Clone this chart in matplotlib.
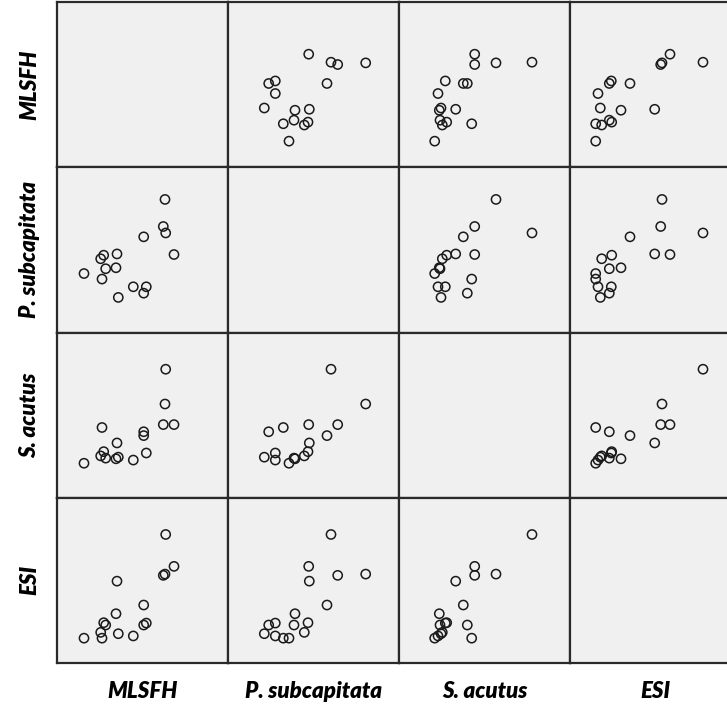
import matplotlib
matplotlib.use('Agg')
import matplotlib.pyplot as plt

# values (arbitrary units, same scale for every variable)
names = ['MLSFH', 'P. subcapitata', 'S. acutus', 'ESI']
mlsfh = [117, 108.7, 108, 106.3, 86.7, 86.7, 89.3, 76.3, 61.3, 59, 60, 48.7, 45, 46.7, 43.7, 27]
p_sub = [80.7, 103, 137.7, 109.7, 99, 40.7, 47.3, 47.3, 36.3, 67, 81.3, 66, 55.3, 80, 76.3, 61]
s_acu = [75.7, 133, 97, 75.7, 64.3, 68.3, 46.3, 39, 42, 40.3, 56.7, 41, 72.7, 47.7, 43.3, 35.7]
esi = [100, 133, 92, 90.7, 60, 39.3, 41.3, 28, 30.3, 51, 84.7, 39.3, 25.7, 41.7, 31.7, 25.7]
data = [mlsfh, p_sub, s_acu, esi]

W, H = 727, 710
fig = plt.figure(figsize=(W / 100, H / 100), dpi=100)
fig.patch.set_facecolor('white')

left0, colw = 57, 171
top0, rowh = 2, 165.25
lim = (0, 171)
frame = '#2a2a2a'
font = dict(family='Lato', fontweight='heavy', fontstyle='italic', fontsize=16, color='black')

for i in range(4):        # row
    for j in range(4):    # column
        x0 = left0 + j * colw
        y1 = top0 + (i + 1) * rowh
        ax = fig.add_axes([x0 / W, (H - y1) / H, colw / W, rowh / H])
        ax.set_facecolor('#f0f0f0')
        ax.set_xlim(*lim)
        ax.set_ylim(*lim)
        ax.set_xticks([])
        ax.set_yticks([])
        for sp in ax.spines.values():
            sp.set_color(frame)
            sp.set_linewidth(1.6)
        if i != j:
            ax.scatter(data[j], data[i], s=44, facecolors='none',
                       edgecolors='#1a1a1a', linewidths=1.1, zorder=3)

# column labels
for j, nm in enumerate(names):
    cx = left0 + (j + 0.5) * colw
    fig.text(cx / W, 1 - 692 / H, nm, ha='center', va='center', **font)

# row labels
for i, nm in enumerate(names):
    cy = top0 + (i + 0.5) * rowh
    fig.text(30 / W, 1 - cy / H, nm, ha='center', va='center', rotation=90, **font)

plt.savefig('out.png', dpi=100, facecolor=fig.get_facecolor())
plt.close()
